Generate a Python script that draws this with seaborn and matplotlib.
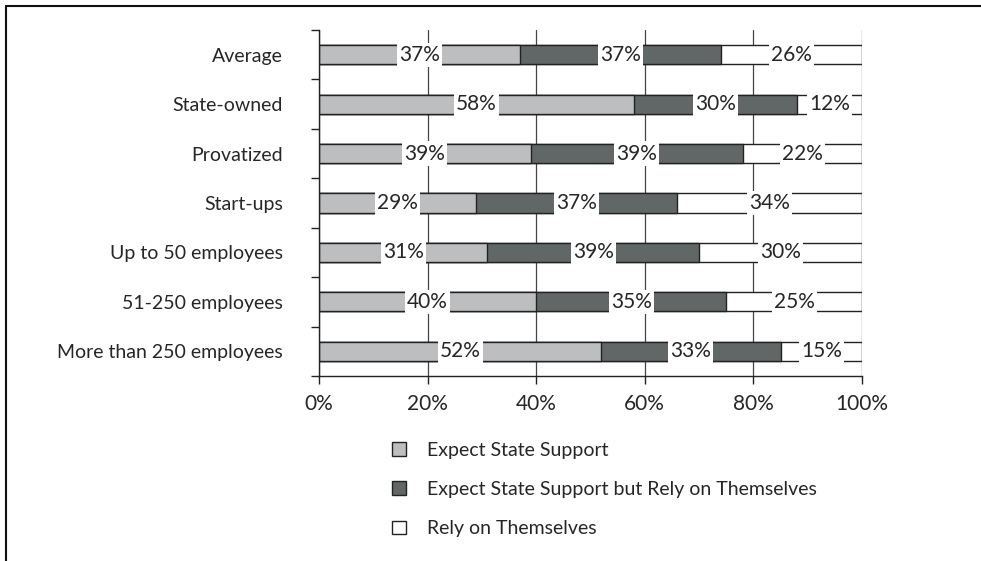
import numpy as np
import pandas as pd
import seaborn as sns
import matplotlib.pyplot as plt
from matplotlib.lines import Line2D
from matplotlib.patches import Patch

categories = ["Average", "State-owned", "Provatized", "Start-ups",
              "Up to 50 employees", "51-250 employees", "More than 250 employees"]
expect_support = [37, 58, 39, 29, 31, 40, 52]
expect_but_rely = [37, 30, 39, 37, 39, 35, 33]
rely_themselves = [26, 12, 22, 34, 30, 25, 15]

series_names = ["Expect State Support",
                "Expect State Support but Rely on Themselves",
                "Rely on Themselves"]
colors = ["#bdbec0", "#616766", "#ffffff"]

df = pd.DataFrame({"category": categories,
                   "s1": expect_support, "s2": expect_but_rely, "s3": rely_themselves})
df["c1"] = df["s1"]
df["c2"] = df["s1"] + df["s2"]
df["c3"] = df["c2"] + df["s3"]

sns.set_style("white")
plt.rcParams["font.family"] = ["Lato", "DejaVu Sans"]
plt.rcParams["font.size"] = 14

fig = plt.figure(figsize=(9.81, 5.61), dpi=100)
ax = fig.add_axes([0.3252, 0.3298, 0.5535, 0.6167])

ax.grid(axis="x", color="#444444", linewidth=0.9)
ax.set_axisbelow(True)

# stacked by overlaying cumulative totals, widest first
for col, c in zip(["c3", "c2", "c1"], colors[::-1]):
    sns.barplot(data=df, x=col, y="category", orient="h", color=c,
                edgecolor="#222222", linewidth=1.0, width=0.39,
                saturation=1, ax=ax, zorder=2)

# segment labels with white boxes
for i, row in df.iterrows():
    starts = [0, row["c1"], row["c2"]]
    vals = [row["s1"], row["s2"], row["s3"]]
    for st, v in zip(starts, vals):
        ax.text(st + v / 2, i, f"{v}%", ha="center", va="center",
                fontsize=15, zorder=4,
                bbox=dict(boxstyle="square,pad=0.1", fc="white", ec="none"))

ax.set_xlim(0, 100)
ax.set_ylim(len(categories) - 0.5, -0.5)
ax.set_xticks(range(0, 101, 20))
ax.set_xticklabels([f"{t}%" for t in range(0, 101, 20)])
ax.set_yticks(range(len(categories)))
ax.set_yticklabels(categories)
ax.set_yticks(np.arange(-0.5, len(categories), 1), minor=True)
ax.tick_params(axis="y", which="major", length=0, pad=26, labelsize=14)
ax.tick_params(axis="y", which="minor", length=6, width=1, color="#222222", direction="out", left=True)
ax.tick_params(axis="x", length=6, width=1, color="#222222", direction="out", bottom=True,
               labelsize=15, pad=7)
ax.set_xlabel("")
ax.set_ylabel("")
for s in ["top", "right"]:
    ax.spines[s].set_visible(False)
for s in ["left", "bottom"]:
    ax.spines[s].set_color("#222222")
    ax.spines[s].set_linewidth(1.0)

handles = [Patch(facecolor=c, edgecolor="#222222", linewidth=1.0) for c in colors]
fig.legend(handles, series_names, loc="upper left", bbox_to_anchor=(0.382, 0.244),
           frameon=False, fontsize=14, handlelength=0.7, handleheight=0.7,
           handletextpad=1.1, labelspacing=1.15)

# frame lines along top and left edge
fig.add_artist(Line2D([0.006, 1.0], [0.989, 0.989], color="#111111", linewidth=1.5))
fig.add_artist(Line2D([0.006, 0.006], [0.0, 0.989], color="#111111", linewidth=1.5))

fig.savefig("out.png", dpi=100)
